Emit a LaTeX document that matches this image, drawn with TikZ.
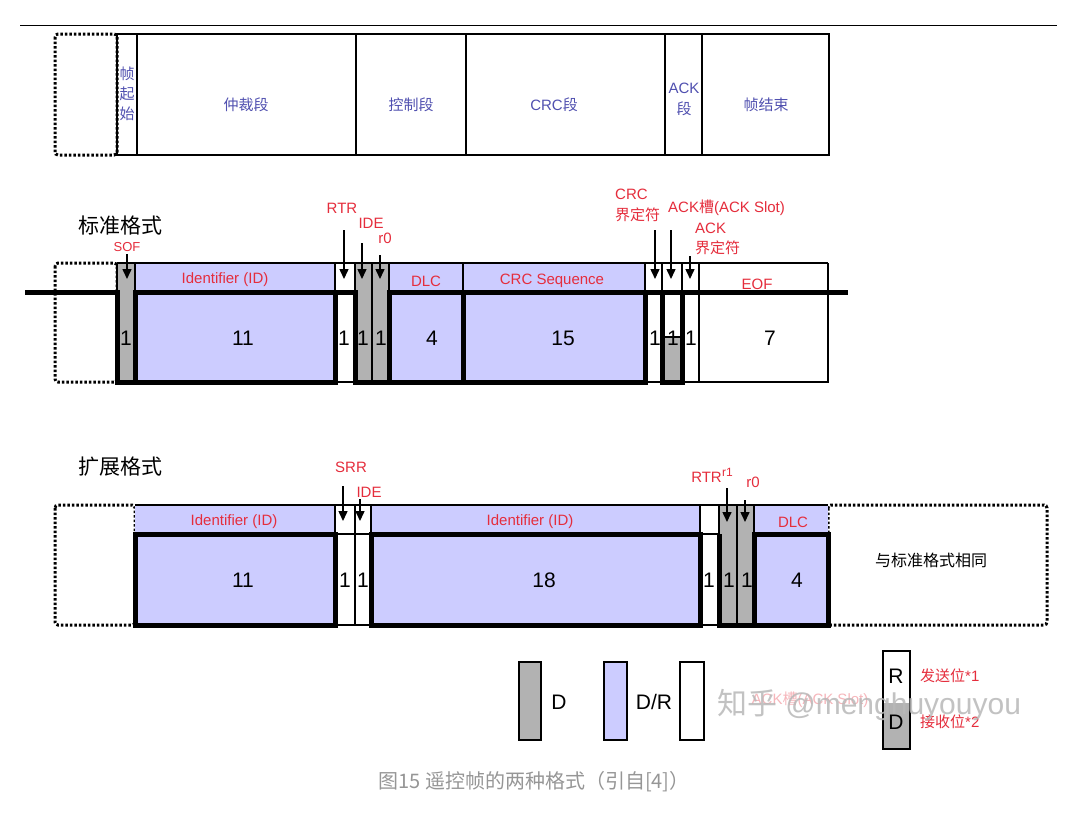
\documentclass[tikz,border=0pt]{standalone}
\usepackage{fontspec}
\setmainfont{Liberation Sans}
\newfontfamily\cjk{Noto Sans CJK SC}
\usetikzlibrary{arrows.meta}
\definecolor{lav}{RGB}{204,204,255}
\definecolor{grb}{RGB}{178,178,178}
\definecolor{lbl}{RGB}{229,45,60}
\definecolor{blu}{RGB}{80,80,176}
\definecolor{capc}{RGB}{150,150,150}
\tikzset{
 thinline/.style={draw=black,line width=1.3pt},
 wave/.style={line width=5pt,line cap=butt,line join=miter},
 dotbox/.style={draw=black,line width=3pt,dash pattern=on 2.5pt off 2pt,rounded corners=3pt},
 redlbl/.style={text=lbl,font=\fontsize{15}{17}\selectfont,inner sep=0pt},
 redcjk/.style={text=lbl,font=\cjk\fontsize{15}{17}\selectfont,inner sep=0pt},
 bluelbl/.style={text=blu,font=\cjk\fontsize{15}{17}\selectfont,inner sep=0pt},
 num/.style={font=\fontsize{21}{24}\selectfont,inner sep=0pt},
 title/.style={font=\cjk\fontsize{21}{24}\selectfont,inner sep=0pt},
 arr/.style={-{Triangle[width=9pt,length=10pt]},line width=1.5pt},
}
\begin{document}
\begin{tikzpicture}[x=1pt,y=-1pt]
\useasboundingbox[fill=white] (0,0) rectangle (1065,830);
% top rule
\draw[line width=1pt] (20,25) -- (1057,25);

% ---------- top frame row ----------
\draw[dotbox] (55,34) rectangle (117,155);
\draw[thinline] (117,34) rectangle (829,155);
\foreach \xx in {137,356,466,665,702} \draw[thinline] (\xx,34) -- (\xx,155);
\node[bluelbl] (tsof1) at (127,74) {帧};
\node[bluelbl] (tsof2) at (127,94) {起};
\node[bluelbl] (tsof3) at (127,114) {始};
\node[bluelbl] (tarb) at (246,105) {仲裁段};
\node[bluelbl] (tctl) at (411,105) {控制段};
\node[bluelbl] (tcrc) at (554,105) {\fontspec{Liberation Sans}CRC\cjk 段};
\node[bluelbl] (tack1) at (684,88) {\fontspec{Liberation Sans}ACK};
\node[bluelbl] (tack2) at (684,109) {段};
\node[bluelbl] (teof) at (766,105) {帧结束};

% ---------- standard format ----------
\node[title] (stdtitle) at (120,226) {标准格式};
\draw[dotbox] (55,263) rectangle (117,382);
% fills
\fill[grb] (117,263) rectangle (135,382);
\fill[lav] (135,263) rectangle (335,382);
\fill[grb] (355,263) rectangle (389,382);
\fill[lav] (389,263) rectangle (645,382);
\fill[grb] (662,337) rectangle (682,382);
% thin lines
\draw[thinline] (117,263) -- (828,263);
\foreach \xx in {117,135,335,355,372,389,463,645,662,682,699,828} \draw[thinline] (\xx,263) -- (\xx,292);
\draw[thinline] (372,263) -- (372,382);
\draw[thinline] (335,382) -- (355,382);
\draw[thinline] (645,382) -- (662,382);
\draw[thinline] (682,382) -- (828,382) -- (828,292);
\draw[thinline] (699,292) -- (699,382);
\draw[thinline] (662,337) -- (682,337);
% thick waveform
\draw[wave] (25,292) -- (117,292) -- (117,382) -- (335,382) -- (335,292);
\draw[wave] (135,382) -- (135,292) -- (355,292) -- (355,382) -- (645,382) -- (645,292);
\draw[wave] (389,382) -- (389,292) -- (848,292);
\draw[wave] (463,292) -- (463,382);
\draw[wave] (662,292) -- (662,382) -- (682,382) -- (682,292);
% upper labels
\node[redlbl] (sid) at (225,280) {Identifier (ID)};
\node[redlbl] (sdlc) at (426,281) {DLC};
\node[redlbl] (scrc) at (552,281) {CRC Sequence};
\node[redlbl] (seof) at (757,284) {EOF};
% numbers
\node[num] (n1) at (126,338) {1};
\node[num] (n2) at (243,338) {11};
\node[num] (n3) at (344,338) {1};
\node[num] (n4) at (363,338) {1};
\node[num] (n5) at (381,338) {1};
\node[num] (n6) at (432,338) {4};
\node[num] (n7) at (563,338) {15};
\node[num] (n8) at (655,338) {1};
\node[num] (n9) at (673,338) {1};
\node[num] (n10) at (691,338) {1};
\node[num] (n11) at (770,338) {7};
% pointer labels
\node[redlbl,font=\fontsize{13}{15}\selectfont] (lsof) at (127,247) {SOF};
\node[redlbl] (lrtr) at (342,208) {RTR};
\node[redlbl] (lide) at (371,223) {IDE};
\node[redlbl] (lr0) at (385,238) {r0};
\node[redlbl,anchor=west] (lcrc1) at (615,194) {CRC};
\node[redcjk,anchor=west] (lcrc2) at (615,215) {界定符};
\node[redlbl,anchor=west] (lslot) at (668,208) {ACK{\cjk 槽}(ACK Slot)};
\node[redlbl,anchor=west] (lackd1) at (695,228) {ACK};
\node[redcjk,anchor=west] (lackd2) at (695,248) {界定符};
% arrows
\coordinate (a1s) at (127,254); \coordinate (a1e) at (127,279);
\coordinate (a2s) at (344,230); \coordinate (a2e) at (344,279);
\coordinate (a3s) at (362,243); \coordinate (a3e) at (362,279);
\coordinate (a4s) at (380,255); \coordinate (a4e) at (380,279);
\coordinate (a5s) at (655,230); \coordinate (a5e) at (655,279);
\coordinate (a6s) at (671,230); \coordinate (a6e) at (671,279);
\coordinate (a7s) at (690,256); \coordinate (a7e) at (690,279);
\foreach \k in {1,...,7} \draw[arr] (a\k s) -- (a\k e);

% ---------- extended format ----------
\node[title] (exttitle) at (120,467) {扩展格式};
\draw[dotbox] (55,505) rectangle (135,625);
\draw[dotbox] (828,505) rectangle (1047,625);
% fills
\fill[lav] (135,505) rectangle (335,625);
\fill[lav] (371,505) rectangle (700,625);
\fill[grb] (719,505) rectangle (754,625);
\fill[lav] (754,505) rectangle (828,625);
% thin lines
\draw[thinline] (135,505) -- (828,505);
\foreach \xx in {335,355,371,700,719,737,754} \draw[thinline] (\xx,505) -- (\xx,534);
\draw[thinline] (355,505) -- (355,625);
\draw[thinline] (737,505) -- (737,625);
\draw[thinline] (335,534) -- (371,534);
\draw[thinline] (335,625) -- (371,625);
\draw[thinline] (700,534) -- (719,534);
\draw[thinline] (700,625) -- (719,625);
% thick
\draw[wave] (135,534) rectangle (335,625);
\draw[wave] (371,534) rectangle (700,625);
\draw[wave] (719,534) -- (719,625) -- (828,625) -- (828,534) -- (754,534) -- (754,625);
% labels
\node[redlbl] (eid1) at (234,522) {Identifier (ID)};
\node[redlbl] (eid2) at (530,522) {Identifier (ID)};
\node[redlbl] (edlc) at (793,522) {DLC};
\node[num] (m1) at (243,580) {11};
\node[num] (m2) at (345,580) {1};
\node[num] (m3) at (363,580) {1};
\node[num] (m4) at (544,580) {18};
\node[num] (m5) at (709,580) {1};
\node[num] (m6) at (729,580) {1};
\node[num] (m7) at (747,580) {1};
\node[num] (m8) at (797,580) {4};
\node[font=\cjk\fontsize{16}{18}\selectfont,inner sep=0pt] (same) at (931,560) {与标准格式相同};
\node[redlbl] (lsrr) at (351,467) {SRR};
\node[redlbl] (lide2) at (369,492) {IDE};
\node[redlbl,anchor=east] (lrtr2) at (722,477) {RTR};
\node[redlbl,anchor=west,font=\fontsize{12}{14}\selectfont] (lr1) at (722,472) {r1};
\node[redlbl] (lr02) at (753,482) {r0};
\coordinate (b1s) at (343,486); \coordinate (b1e) at (343,521);
\coordinate (b2s) at (360,499); \coordinate (b2e) at (360,521);
\coordinate (b3s) at (727,488); \coordinate (b3e) at (727,522);
\coordinate (b4s) at (745,500); \coordinate (b4e) at (745,522);
\foreach \k in {1,...,4} \draw[arr] (b\k s) -- (b\k e);

% ---------- legend ----------
\draw[thinline,fill=grb] (519,662) rectangle (541,740);
\node[num] (legd) at (559,702) {D};
\draw[thinline,fill=lav] (604,662) rectangle (627,740);
\node[num] (legdr) at (654,702) {D/R};
\draw[thinline,fill=white] (680,662) rectangle (704,740);
\fill[grb] (883,703) rectangle (910,749);
\draw[thinline] (883,651) rectangle (910,749);
\node[num] (legr) at (896,676) {R};
\node[num] (legd2) at (896,722) {D};
\node[redcjk,anchor=west,font=\cjk\fontsize{15}{17}\selectfont] (tx) at (920,676) {发送位{\fontspec{Liberation Sans}*1}};
\node[redcjk,anchor=west,font=\cjk\fontsize{15}{17}\selectfont] (rx) at (920,722) {接收位{\fontspec{Liberation Sans}*2}};
% faint overlay texts
\node[text=lbl!35,font=\fontsize{15}{17}\selectfont,inner sep=0pt] (ghost) at (810,700) {ACK{\cjk 槽}(ACK Slot)};
\node[text=black!28,opacity=0.85,font=\fontsize{30}{34}\selectfont,inner sep=0pt] (wm) at (869,705) {{\cjk 知乎} @menghuyouyou};

% caption
\node[text=capc,font=\cjk\fontsize{20}{24}\selectfont,inner sep=0pt] (caption) at (534,782) {图15 遥控帧的两种格式（引自[4]）};
\end{tikzpicture}
\end{document}
